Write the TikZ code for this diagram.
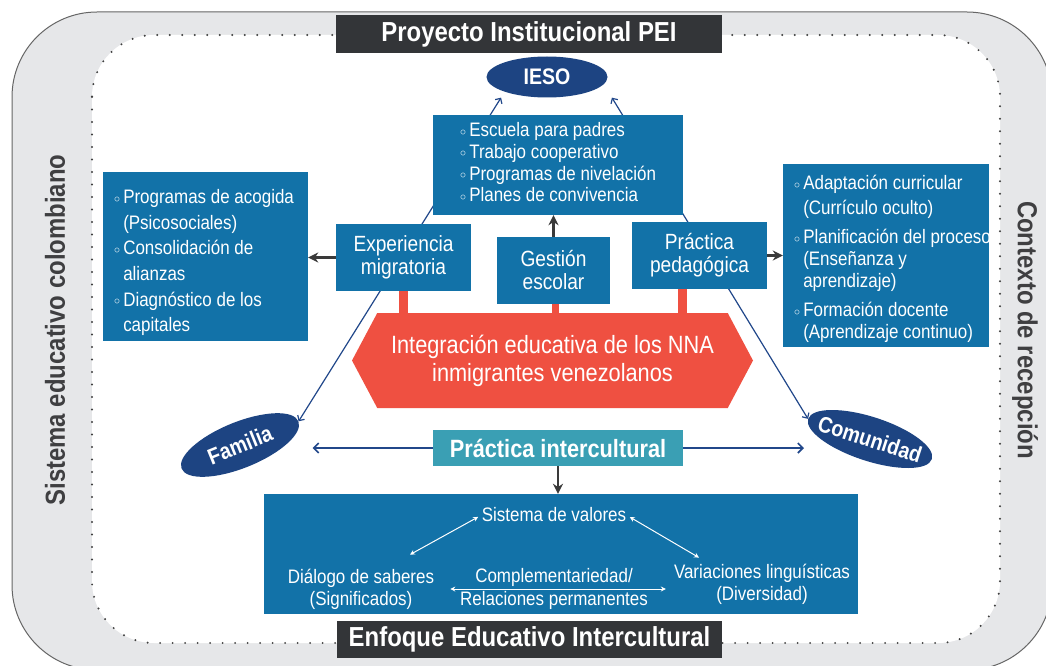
\documentclass[tikz,border=0pt]{standalone}
\usepackage{fontspec}
\setmainfont{Liberation Sans}[FakeStretch=0.87]
\usetikzlibrary{arrows.meta,shapes.geometric,shapes.symbols,calc}

\definecolor{boxblue}{HTML}{1272A8}
\definecolor{ovalblue}{HTML}{1D4482}
\definecolor{nnared}{HTML}{EF5041}
\definecolor{interteal}{HTML}{3A9FB4}
\definecolor{darkbox}{HTML}{333538}
\definecolor{bandgray}{HTML}{E6E7E9}
\definecolor{sidegray}{HTML}{3F3F41}
\definecolor{arrowgray}{HTML}{3A3A3A}
\definecolor{linkblue}{HTML}{21478A}

\newcommand{\bul}{\raisebox{1.5pt}{\fontsize{12pt}{12pt}\selectfont$\circ$}}

\pgfdeclarelayer{band}
\pgfdeclarelayer{links}
\pgfsetlayers{band,links,main}

\begin{document}
\begin{tikzpicture}[x=1pt, y=-1pt,
        every node/.style={align=center, text=white, inner sep=0pt},
        bluebox/.style={fill=boxblue, font=\fontsize{19.5pt}{23pt}\selectfont},
        midbox/.style={fill=boxblue, minimum width=135, minimum height=67, font=\fontsize{22pt}{23pt}\selectfont},
        oval/.style={ellipse, fill=ovalblue, inner xsep=-8pt, font=\bfseries\fontsize{22.5pt}{24pt}\selectfont},
        titlebox/.style={fill=darkbox, font=\bfseries\fontsize{27.5pt}{30pt}\selectfont},
        sidetext/.style={text=sidegray, font=\bfseries\fontsize{27.5pt}{30pt}\selectfont},
        valtext/.style={font=\fontsize{19.5pt}{22pt}\selectfont},
        gray arrow/.style={draw=arrowgray, line width=2.4pt, -{Stealth[length=10pt,width=10pt]}},
        link/.style={draw=linkblue, line width=1.2pt, {Straight Barb[length=4pt,width=8pt]}-{Straight Barb[length=4pt,width=8pt]}},
        dbl link/.style={draw=linkblue, line width=1.6pt, -{Straight Barb[length=5pt,width=10pt]}},
        white arrow/.style={draw=white, line width=1pt, {Stealth[length=5pt,width=5pt]}-{Stealth[length=5pt,width=5pt]}},
        red bar/.style={draw=nnared, line width=9pt},
    ]
    \useasboundingbox (0,0) rectangle (1046,666);
    \clip (0,0) rectangle (1046,666);

    % gray frame and dotted field
    \begin{pgfonlayer}{band}
        \draw[fill=bandgray, draw=gray!80!black, line width=1pt, rounded corners=85] (12,12) rectangle (1052,670);
        \draw[fill=white, draw=black!75, line width=2.2pt, line cap=round, dash pattern=on 0pt off 12.5pt, rounded corners=62] (92,35) rectangle (1000,643);
    \end{pgfonlayer}

    \node[sidetext, rotate=90] (sistema) at (55,330) {Sistema educativo colombiano};
    \node[sidetext, rotate=-90] (contexto) at (1025,330) {Contexto de recepción};

    \node[titlebox, minimum width=386, minimum height=38] (pei) at (529,34) {Proyecto Institucional PEI};
    \node[titlebox, minimum width=385, minimum height=37] (enfoque) at (529.5,639.5) {Enfoque Educativo Intercultural};

    \node[oval, minimum width=121, minimum height=41] (ieso) at (547,77) {IESO};

    % upper boxes
    \node[bluebox, minimum width=250, minimum height=100, font=\fontsize{19.5pt}{21.7pt}\selectfont] (acciones) at (558,165) {%
        \begin{tabular}{@{}l@{\,}l@{}}
            \bul & Escuela para padres\\
            \bul & Trabajo cooperativo\\
            \bul & Programas de nivelación\\
            \bul & Planes de convivencia
        \end{tabular}};

    \node[bluebox, minimum width=205, minimum height=169] (apoyos) at (205.5,256.5) {};
    \node[anchor=west, font=\fontsize{19.5pt}{25.6pt}\selectfont] (apoyostext) at ([xshift=11pt, yshift=-6pt]apoyos.west) {%
        \begin{tabular}{@{}l@{\,}l@{}}
            \bul & Programas de acogida\\
                 & (Psicosociales)\\
            \bul & Consolidación de\\
                 & alianzas\\
            \bul & Diagnóstico de los\\
                 & capitales
        \end{tabular}};

    \node[bluebox, minimum width=206, minimum height=183] (practicas) at (886,255.5) {};
    \node[anchor=west, font=\fontsize{19.5pt}{22pt}\selectfont] (practicastext) at ([xshift=11pt, yshift=-4.5pt]practicas.west) {%
        \begin{tabular}{@{}l@{\,}l@{}}
            \bul & Adaptación curricular\\[3pt]
                 & (Currículo oculto)\\[7pt]
            \bul & Planificación del proceso\\
                 & (Enseñanza y\\
                 & aprendizaje)\\[7pt]
            \bul & Formación docente\\
                 & (Aprendizaje continuo)
        \end{tabular}};

    \node[midbox] (experiencia) at (403.5,257.5) {Experiencia\\migratoria};
    \node[midbox, minimum width=113] (gestion) at (553.5,270.5) {Gestión\\escolar};
    \node[midbox] (pedagogica) at (699.5,255.5) {Práctica\\pedagógica};

    \node[signal, signal to=west and east, signal pointer angle=124, fill=nnared, minimum width=401, minimum height=95, font=\fontsize{25pt}{28pt}\selectfont] (nna) at (552.5,360.5) {Integración educativa de los NNA\\inmigrantes venezolanos};

    \node[oval, minimum width=126, minimum height=46, rotate=22] (familia) at (240,445) {Familia};
    \node[oval, minimum width=130, minimum height=44, rotate=-18] (comunidad) at (870,439) {Comunidad};

    \node[fill=interteal, minimum width=250, minimum height=36, font=\bfseries\fontsize{25pt}{26pt}\selectfont] (intercultural) at (558,448) {Práctica intercultural};

    % lower box
    \node[bluebox, minimum width=594, minimum height=120] (enfoquebox) at (561,554) {};
    \node[valtext] (valores) at (554,515) {Sistema de valores};
    \node[valtext] (dialogo) at (361,589) {Diálogo de saberes\\(Significados)};
    \node[valtext] (variaciones) at (762,584) {Variaciones linguísticas\\(Diversidad)};

    \draw[white arrow, shorten <=16pt, shorten >=8pt] (dialogo.east) -- (dialogo.east -| variaciones.west)
        node[midway, above=2pt, valtext] {Complementariedad/}
        node[midway, below=2pt, valtext] {Relaciones permanentes};
    \draw[white arrow, shorten >=4pt] ([xshift=49pt, yshift=14pt]dialogo.north) -- (valores.west);
    \draw[white arrow, shorten <=4pt] (valores.east) -- ([xshift=-63pt, yshift=6pt]variaciones.north);

    % connectors
    \draw[gray arrow] (gestion.north) -- (gestion.north |- acciones.south);
    \draw[gray arrow] (experiencia.west) -- (experiencia.west -| apoyos.east);
    \draw[gray arrow] (pedagogica.east) -- (pedagogica.east -| practicas.west);
    \draw[gray arrow] (intercultural.south) -- (intercultural.south |- enfoquebox.north);

    \draw[dbl link] (intercultural.west) -- ($(familia.east |- intercultural.west)+(14,0)$);
    \draw[dbl link] (intercultural.east) -- ($(comunidad.west |- intercultural.east)+(-4,0)$);

    \draw[red bar] (experiencia.south) -- (experiencia.south |- nna.north);
    \draw[red bar, line width=7pt] ([xshift=2pt]gestion.south) -- ([xshift=2pt]gestion.south |- nna.north);
    \draw[red bar] ([xshift=-17pt]pedagogica.south) -- ([xshift=-17pt]pedagogica.south |- nna.north);

    \begin{pgfonlayer}{links}
        \draw[link] ([shift={(-3,6)}]ieso.south west) -- (familia.east);
        \draw[link] ([shift={(22,6)}]ieso.south east) -- (comunidad.west);
    \end{pgfonlayer}
\end{tikzpicture}
\end{document}
